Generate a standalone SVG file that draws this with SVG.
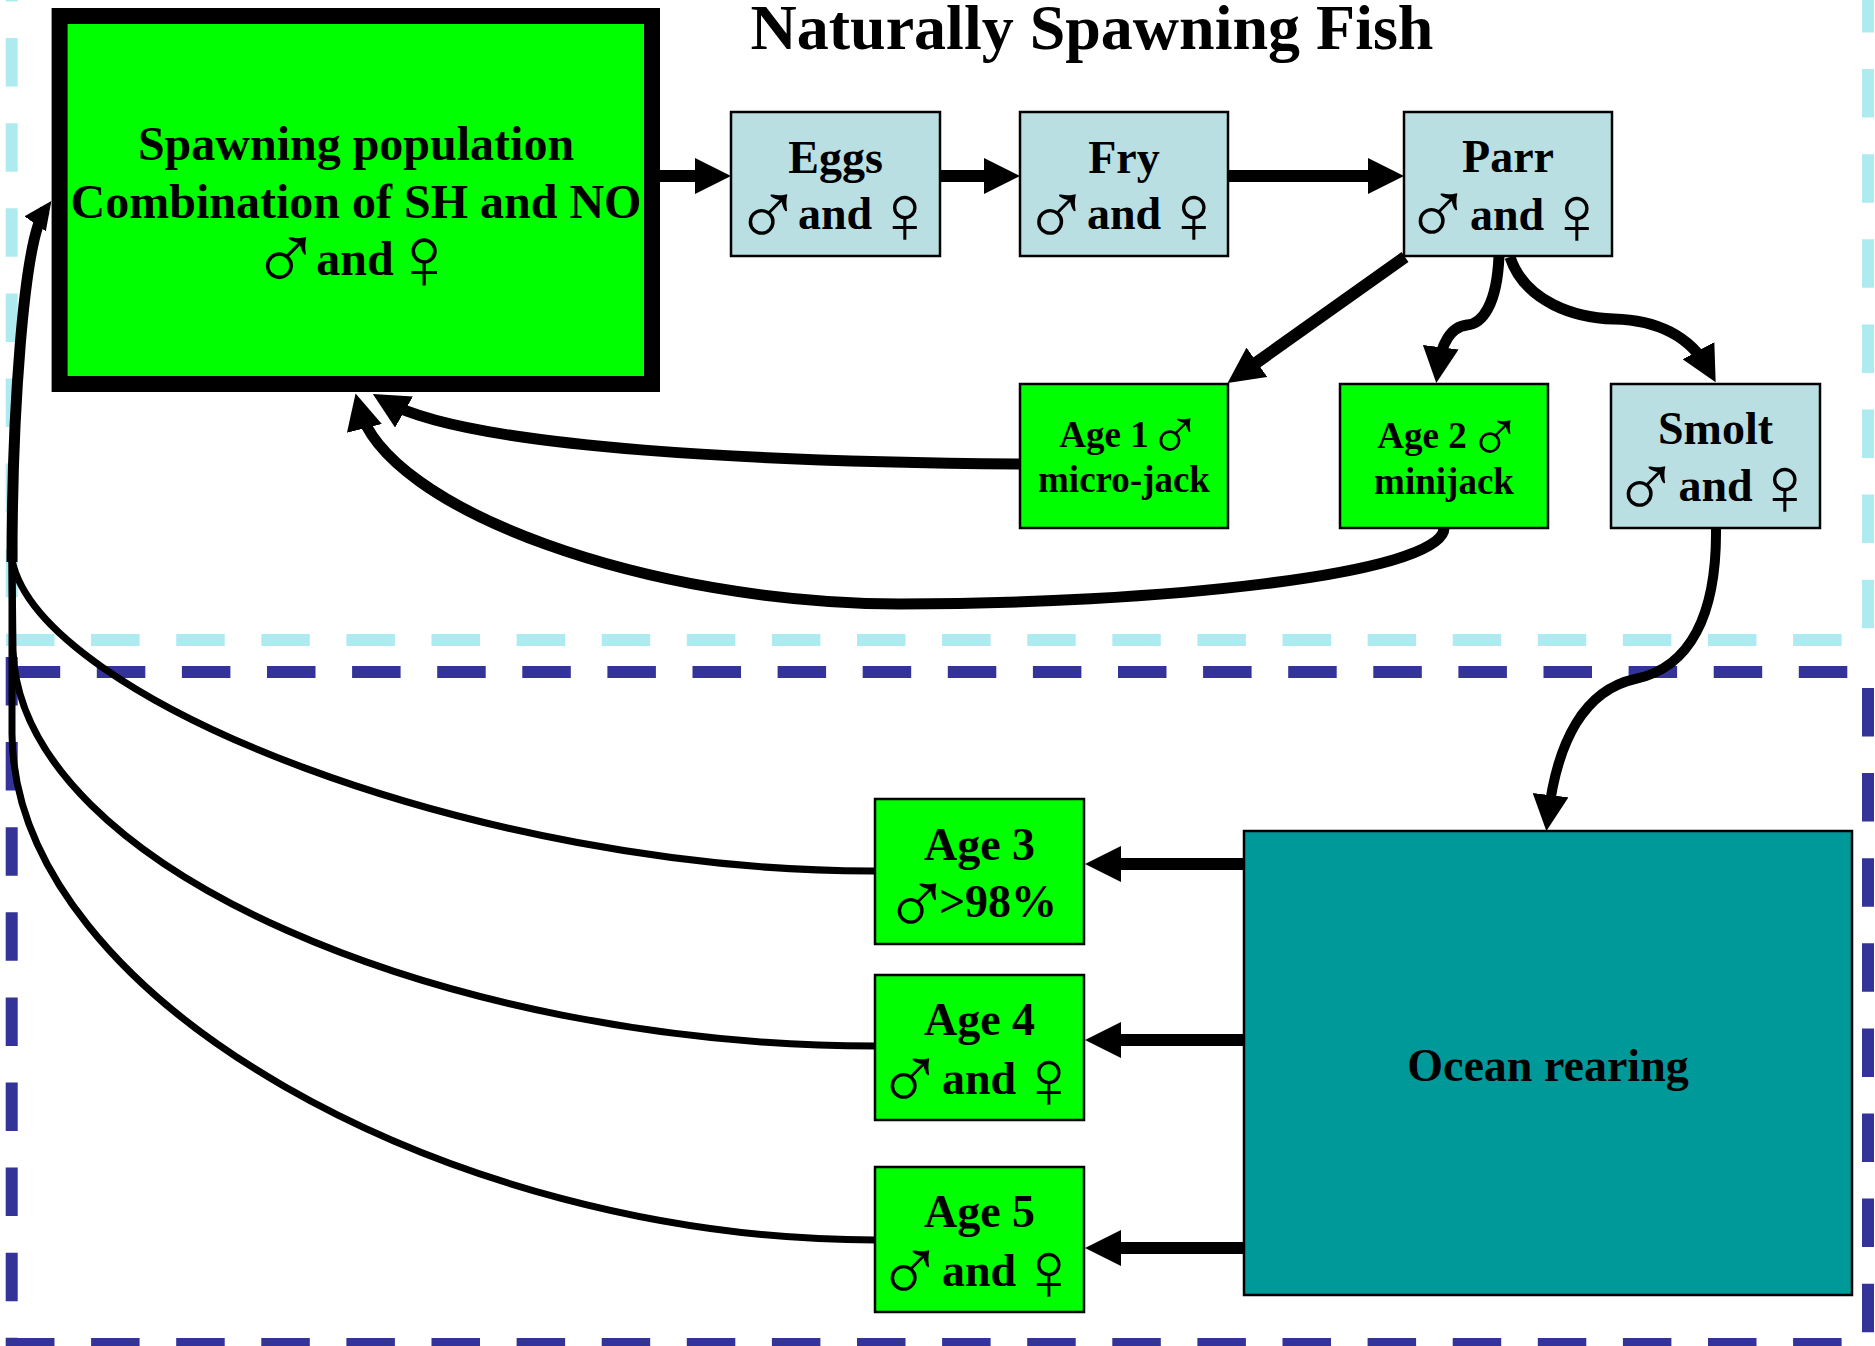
<svg xmlns="http://www.w3.org/2000/svg" width="1875" height="1346" viewBox="0 0 1875 1346">
<style>
.t{font-family:"Liberation Serif","Times New Roman",serif;font-weight:bold;text-anchor:middle;fill:#000}
.s{font-family:"DejaVu Sans","Liberation Serif",sans-serif;font-weight:200}
.m48{font-size:96px}.w48{font-size:90px}
.m46{font-size:92px}.w46{font-size:84px}
.m37{font-size:74px}
.f46{font-size:46px}
.f37{font-size:37px}
.blue{fill:#B9DFE3;stroke:#000;stroke-width:2.5}
.green{fill:#00FF00;stroke:#000;stroke-width:2.5}
.cy{stroke:#AEEBF0;stroke-width:12;stroke-dasharray:48.5 36.6;fill:none}
.nv{stroke:#333399;stroke-width:12;stroke-dasharray:48.5 36.6;fill:none}
.c{fill:none;stroke:#000}
</style>
<defs>
<marker id="ah" markerUnits="userSpaceOnUse" markerWidth="36" markerHeight="36" viewBox="0 0 36 36" refX="22" refY="18" orient="auto"><path d="M0,0 L36,18 L0,36 z" fill="#000"/></marker>
<marker id="ahs" markerUnits="userSpaceOnUse" markerWidth="28" markerHeight="26" viewBox="0 0 28 26" refX="17" refY="13" orient="auto"><path d="M0,0 L28,13 L0,26 z" fill="#000"/></marker>
</defs>
<rect width="1875" height="1346" fill="#fff"/>
<g id="regions">
<line class="cy" x1="11.7" y1="-47" x2="11.7" y2="634"/>
<line class="cy" x1="6" y1="640" x2="1874" y2="640"/>
<line class="cy" x1="1868" y1="-16" x2="1868" y2="646"/>
<line class="nv" x1="11.7" y1="657" x2="11.7" y2="1346"/>
<line class="nv" x1="11.7" y1="672" x2="1874" y2="672"/>
<line class="nv" x1="1868" y1="688" x2="1868" y2="1346"/>
<line class="nv" x1="6" y1="1344" x2="1875" y2="1344"/>
</g>
<text class="t" x="1092" y="49" font-size="64">Naturally Spawning Fish</text>
<g id="connectors">
<line class="c" stroke-width="12" x1="660" y1="176" x2="717" y2="176" marker-end="url(#ah)"/>
<line class="c" stroke-width="12" x1="940" y1="176" x2="1006" y2="176" marker-end="url(#ah)"/>
<line class="c" stroke-width="12" x1="1228" y1="176" x2="1390" y2="176" marker-end="url(#ah)"/>
<line class="c" stroke-width="12" x1="1405" y1="257" x2="1239" y2="375" marker-end="url(#ah)"/>
<path class="c" stroke-width="11" d="M1499,256 C1497,305 1482,324 1467,325 C1450,327 1441,345 1438,369" marker-end="url(#ah)"/>
<path class="c" stroke-width="11" d="M1510,257 C1525,302 1575,318 1614,319 C1655,320 1690,335 1709,370" marker-end="url(#ah)"/>
<path class="c" stroke-width="10" d="M1716,528 C1717,615 1690,668 1635,679 C1585,690 1557,740 1548,817" marker-end="url(#ah)"/>
<path class="c" stroke-width="11" d="M1020,464 C780,462 470,450 385,401" marker-end="url(#ah)"/>
<path class="c" stroke-width="11" d="M1444,528 C1444,575 1150,604 900,604 C650,604 385,510 359,407" marker-end="url(#ah)"/>
<line class="c" stroke-width="12" x1="1244" y1="864" x2="1099" y2="864" marker-end="url(#ah)"/>
<line class="c" stroke-width="12" x1="1244" y1="1040" x2="1099" y2="1040" marker-end="url(#ah)"/>
<line class="c" stroke-width="12" x1="1244" y1="1248" x2="1099" y2="1248" marker-end="url(#ah)"/>
<path class="c" stroke-width="7" d="M875,871 C480,872 40,700 12,560"/>
<path class="c" stroke-width="7" d="M875,1046 C450,1046 20,870 13,650 L12,560"/>
<path class="c" stroke-width="7" d="M875,1240 C450,1240 14,1000 12,734 L12,560"/>
<path class="c" stroke-width="11" d="M12,562 C12,420 23,241 45,210" marker-end="url(#ahs)"/>
</g>
<g id="spawning">
<rect x="59.6" y="16" width="592.4" height="368" fill="#00FF00" stroke="#000" stroke-width="16"/>
<text class="t" x="356" y="160" font-size="48">Spawning population</text>
<text class="t" x="356" y="218" font-size="48">Combination of SH and NO</text>
<text class="t" font-size="48"><tspan class="s m48" x="286" y="291">♂</tspan><tspan x="355" y="275">and</tspan><tspan class="s w48" x="424" y="289">♀</tspan></text>
</g>
<g id="eggs">
<rect class="blue" x="731" y="112" width="209" height="144"/>
<text class="t f46" x="835.5" y="173">Eggs</text>
<text class="t f46"><tspan class="s m46" x="768" y="246">♂</tspan><tspan x="835" y="229">and</tspan><tspan class="s w46" x="905" y="243">♀</tspan></text>
</g>
<g id="fry">
<rect class="blue" x="1020" y="112" width="208" height="144"/>
<text class="t f46" x="1124" y="173">Fry</text>
<text class="t f46"><tspan class="s m46" x="1056.5" y="246">♂</tspan><tspan x="1124" y="229">and</tspan><tspan class="s w46" x="1194" y="243">♀</tspan></text>
</g>
<g id="parr">
<rect class="blue" x="1404" y="112" width="208" height="144"/>
<text class="t f46" x="1508" y="172">Parr</text>
<text class="t f46"><tspan class="s m46" x="1438" y="245">♂</tspan><tspan x="1507" y="230">and</tspan><tspan class="s w46" x="1577" y="244">♀</tspan></text>
</g>
<g id="age1">
<rect class="green" x="1020" y="384" width="208" height="144"/>
<text class="t f37"><tspan x="1104" y="447">Age 1</tspan><tspan class="s m37" x="1175" y="460">♂</tspan></text>
<text class="t f37" x="1124" y="492">micro-jack</text>
</g>
<g id="age2">
<rect class="green" x="1340" y="384" width="208" height="144"/>
<text class="t f37"><tspan x="1422" y="448">Age 2</tspan><tspan class="s m37" x="1495" y="462">♂</tspan></text>
<text class="t f37" x="1444" y="494">minijack</text>
</g>
<g id="smolt">
<rect class="blue" x="1611" y="384" width="209" height="144"/>
<text class="t f46" x="1715.5" y="444">Smolt</text>
<text class="t f46"><tspan class="s m46" x="1646" y="518">♂</tspan><tspan x="1715.5" y="501">and</tspan><tspan class="s w46" x="1785" y="515">♀</tspan></text>
</g>
<g id="ocean">
<rect x="1244" y="831" width="608" height="464" fill="#009999" stroke="#000" stroke-width="2.5"/>
<text class="t f46" x="1548" y="1081">Ocean rearing</text>
</g>
<g id="age3">
<rect class="green" x="875" y="799" width="209" height="145"/>
<text class="t f46" x="979.5" y="860">Age 3</text>
<text class="t f46"><tspan class="s m46" x="917" y="935">♂</tspan><tspan x="998" y="917">&gt;98%</tspan></text>
</g>
<g id="age4">
<rect class="green" x="875" y="975" width="209" height="145"/>
<text class="t f46" x="979.5" y="1035">Age 4</text>
<text class="t f46"><tspan class="s m46" x="910" y="1110">♂</tspan><tspan x="979" y="1094">and</tspan><tspan class="s w46" x="1049" y="1108">♀</tspan></text>
</g>
<g id="age5">
<rect class="green" x="875" y="1167" width="209" height="145"/>
<text class="t f46" x="979.5" y="1227">Age 5</text>
<text class="t f46"><tspan class="s m46" x="910" y="1302">♂</tspan><tspan x="979" y="1286">and</tspan><tspan class="s w46" x="1049" y="1300">♀</tspan></text>
</g>
</svg>
